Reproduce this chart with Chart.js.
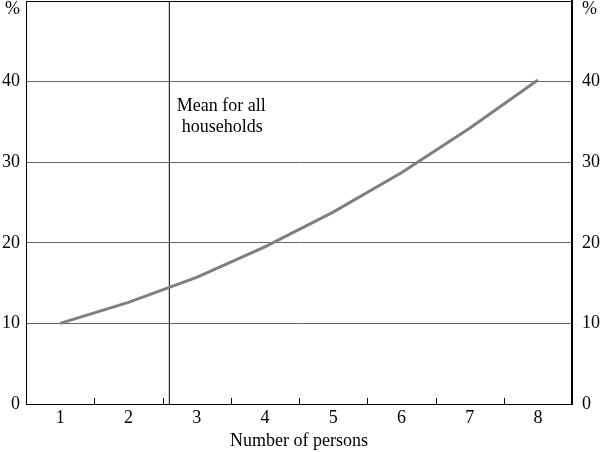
<!DOCTYPE html>
<html>
<head>
<meta charset="utf-8">
<script src="https://cdn.jsdelivr.net/npm/chart.js@4.4.1/dist/chart.umd.min.js"></script>
<style>
  body { margin: 0; background: #fff; }
  #wrap { width: 600px; height: 452px; }
</style>
</head>
<body>
<div id="wrap"><canvas id="grafico"></canvas></div>
<script>
// number of persons in household
const personas = [1, 2, 3, 4, 5, 6, 7, 8]
// per cent
const valores = [10.0, 12.6, 15.7, 19.5, 23.8, 28.7, 34.2, 40.2]
const marcasY = [0, 10, 20, 30, 40, 50]
const mediaHogares = 2.6
const textoMedia = ["Mean for all", "households"]

const fuente = "'Liberation Serif', 'DejaVu Serif', serif"

const puntos = personas.map((p, i) => ({ x: p, y: valores[i] }))

// small ticks between categories, pointing up from the x axis
const marcasX = {
  id: "marcasX",
  afterDatasetsDraw(chart) {
    const ctx = chart.ctx
    const x = chart.scales.x
    const y = chart.scales.y
    const base = y.getPixelForValue(0)
    const tope = y.getPixelForValue(50)
    ctx.save()
    ctx.strokeStyle = "#000"
    ctx.lineWidth = 1
    for (let i = 1; i < personas.length; i++) {
      const px = Math.round(x.getPixelForValue(personas[i] - 0.5)) + 0.5
      ctx.beginPath()
      ctx.moveTo(px, base)
      ctx.lineTo(px, base - 6)
      ctx.stroke()
    }
    // top frame
    ctx.beginPath()
    ctx.moveTo(chart.chartArea.left, Math.round(tope) + 0.5)
    ctx.lineTo(chart.chartArea.right, Math.round(tope) + 0.5)
    ctx.stroke()
    // label for the mean line
    ctx.fillStyle = "#000"
    ctx.font = "18px " + fuente
    ctx.textAlign = "center"
    ctx.textBaseline = "middle"
    const cx = x.getPixelForValue(mediaHogares) + 53
    ctx.fillText(textoMedia[0], cx - 1, y.getPixelForValue(37.0))
    ctx.fillText(textoMedia[1], cx, y.getPixelForValue(34.3))
    // % unit labels at the top of both axes
    ctx.textAlign = "right"
    ctx.fillText("%", 20, 9)
    ctx.textAlign = "left"
    ctx.fillText("%", 582, 9)
    ctx.restore()
  }
}

const ejeY = (pos, ancho, relleno) => ({
  position: pos,
  min: 0,
  max: 50,
  afterBuildTicks: (s) => { s.ticks = marcasY.map(v => ({ value: v })) },
  afterFit: (s) => { s.width = ancho; s.paddingTop = 0; s.paddingBottom = 0 },
  ticks: {
    color: "#000",
    padding: relleno,
    font: { family: fuente, size: 18 },
    callback: (v) => v === 50 ? "" : String(v)
  },
  grid: {
    drawTicks: false,
    drawOnChartArea: pos === "left",
    color: (c) => (c.tick && (c.tick.value === 0 || c.tick.value === 50)) ? "#000" : "#666",
    lineWidth: 1
  },
  border: { color: "#000", width: pos === "right" ? 2 : 1 }
})

new Chart(document.getElementById("grafico"), {
  type: "line",
  data: {
    datasets: [
      {
        data: puntos,
        borderColor: "#7f7f7f",
        borderWidth: 3,
        pointRadius: 0,
        tension: 0,
        yAxisID: "y"
      },
      {
        data: [{ x: mediaHogares, y: 0 }, { x: mediaHogares, y: 50 }],
        borderColor: "#000",
        borderWidth: 1,
        pointRadius: 0,
        yAxisID: "y"
      }
    ]
  },
  options: {
    responsive: true,
    maintainAspectRatio: false,
    animation: false,
    layout: { padding: { top: 1 } },
    plugins: { legend: { display: false }, tooltip: { enabled: false } },
    scales: {
      x: {
        type: "linear",
        min: 0.5,
        max: 8.5,
        afterBuildTicks: (s) => { s.ticks = personas.map(v => ({ value: v })) },
        afterFit: (s) => { s.height = 48; s.paddingLeft = 0; s.paddingRight = 0 },
        ticks: {
          color: "#000",
          padding: 3,
          font: { family: fuente, size: 18 }
        },
        grid: { display: false, drawTicks: false },
        border: { color: "#000", width: 1 },
        title: {
          display: true,
          text: "Number of persons",
          color: "#000",
          font: { family: fuente, size: 18 },
          padding: { top: 0, bottom: 0 }
        }
      },
      y: ejeY("left", 26, 6),
      y2: ejeY("right", 28, 10)
    }
  },
  plugins: [marcasX]
})
</script>
</body>
</html>
